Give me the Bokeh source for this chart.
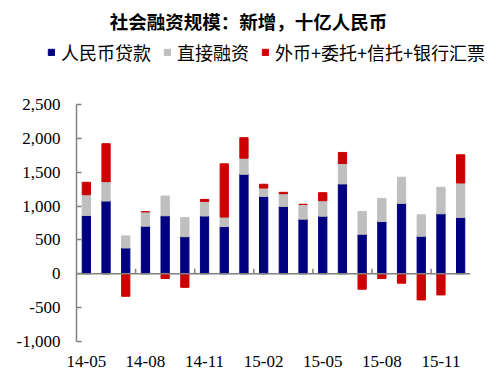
from bokeh.plotting import figure
from bokeh.layouts import column
from bokeh.models import ColumnDataSource, Legend, LegendItem, NumeralTickFormatter, FixedTicker, Span, Label, Range1d
from bokeh.embed import file_html
from bokeh.resources import INLINE

months = ["14-05", "14-06", "14-07", "14-08", "14-09", "14-10", "14-11", "14-12",
          "15-01", "15-02", "15-03", "15-04", "15-05", "15-06", "15-07", "15-08",
          "15-09", "15-10", "15-11", "15-12"]
rmb_loans = [861, 1074, 381, 703, 857, 548, 853, 697, 1470, 1143, 995, 807, 851, 1327, 584, 772, 1040, 554, 886, 832]
direct_fin = [307, 287, 178, 213, 291, 284, 216, 140, 238, 124, 188, 218, 228, 302, 337, 342, 386, 317, 391, 509]
other = [183, 560, -332, 0, -70, -200, 30, 787, 302, 55, 20, 0, 119, 163, -228, -70, -139, -386, -312, 416]
tick_labels = ["14-05", "14-08", "14-11", "15-02", "15-05", "15-08", "15-11"]
series_names = ["人民币贷款", "直接融资", "外币+委托+信托+银行汇票"]
title_text = "社会融资规模：新增，十亿人民币"

NAVY = "#000080"
GRAY = "#BFBFBF"
RED = "#CC0000"
SERIF = "Liberation Serif"
CJK = "Noto Sans CJK SC"

xs = list(range(len(months)))
g_top = [b + g for b, g in zip(rmb_loans, direct_fin)]
r_bot = [gt if r >= 0 else r for gt, r in zip(g_top, other)]
r_top = [gt + r if r >= 0 else 0 for gt, r in zip(g_top, other)]

src = ColumnDataSource(dict(x=xs, b_top=rmb_loans, g_bot=rmb_loans, g_top=g_top, r_bot=r_bot, r_top=r_top))

# ---- header: title + legend (its ranges keep the proxy bars out of view) ----
header = figure(width=495, height=94, output_backend="svg", toolbar_location=None,
                x_axis_type=None, y_axis_type=None, x_range=Range1d(-30, -29), y_range=Range1d(0, 1),
                min_border=0, min_border_left=0, min_border_right=0, min_border_top=0, min_border_bottom=0)
header.frame_align = False
header.outline_line_color = None
header.background_fill_color = "white"
header.border_fill_color = "white"
hb = header.vbar(x="x", bottom=0, top="b_top", width=0.42, color=NAVY, source=src)
hg = header.vbar(x="x", bottom="g_bot", top="g_top", width=0.42, color=GRAY, source=src)
hr = header.vbar(x="x", bottom="r_bot", top="r_top", width=0.42, color=RED, source=src)
legend = Legend(items=[
    LegendItem(label=series_names[0], renderers=[hb]),
    LegendItem(label=series_names[1], renderers=[hg]),
    LegendItem(label=series_names[2], renderers=[hr]),
], orientation="horizontal", location=(47, 29), border_line_color=None,
    background_fill_alpha=0, label_text_font=CJK, label_text_font_size="18px",
    label_text_color="black", label_height=20, glyph_width=8, glyph_height=8,
    spacing=12, label_standoff=6, padding=0, margin=0)
header.add_layout(legend, "center")
header.add_layout(Label(x=248, y=74, x_units="screen", y_units="screen", text=title_text,
                        text_font=CJK, text_font_size="18.5px", text_font_style="bold",
                        text_color="black", text_align="center", text_baseline="middle"))

# ---- main chart ----
p = figure(width=495, height=281, output_backend="svg", toolbar_location=None,
           x_range=Range1d(-0.5, len(months) - 0.5), y_range=Range1d(-1000, 2500),
           min_border_left=76, min_border_right=25, min_border_bottom=34, min_border_top=10)
p.frame_align = False
p.outline_line_color = None
p.xgrid.visible = False
p.ygrid.visible = False
p.background_fill_color = "white"
p.border_fill_color = "white"

w = 0.42
p.vbar(x="x", bottom=0, top="b_top", width=w, color=NAVY, source=src)
p.vbar(x="x", bottom="g_bot", top="g_top", width=w, color=GRAY, source=src)
p.vbar(x="x", bottom="r_bot", top="r_top", width=w, color=RED, source=src)

p.add_layout(Span(location=0, dimension="width", line_color="#808080", line_width=1.5))
sep = [i * 3 + 2.5 for i in range(len(tick_labels) - 1)]
p.segment(x0=sep, x1=sep, y0=[0] * len(sep), y1=[75] * len(sep), line_color="#808080", line_width=1.5)

p.yaxis.ticker = FixedTicker(ticks=[-1000, -500, 0, 500, 1000, 1500, 2000, 2500])
p.yaxis.formatter = NumeralTickFormatter(format="0,0")
p.yaxis.major_label_text_font = SERIF
p.yaxis.major_label_text_font_size = "17px"
p.yaxis.major_label_text_color = "black"
p.yaxis.axis_line_color = "#808080"
p.yaxis.axis_line_width = 1.5
p.yaxis.major_tick_line_color = "#808080"
p.yaxis.major_tick_line_width = 1.5
p.yaxis.major_tick_in = 5
p.yaxis.major_tick_out = 0
p.yaxis.minor_tick_line_color = None
p.yaxis.major_label_standoff = 16

tick_pos = [months.index(t) for t in tick_labels]
p.xaxis.ticker = FixedTicker(ticks=tick_pos)
p.xaxis.major_label_overrides = {i: m for i, m in zip(tick_pos, tick_labels)}
p.xaxis.axis_line_color = None
p.xaxis.major_tick_line_color = None
p.xaxis.minor_tick_line_color = None
p.xaxis.major_label_text_font = SERIF
p.xaxis.major_label_text_font_size = "17px"
p.xaxis.major_label_text_color = "black"
p.xaxis.major_label_standoff = 8

layout = column(header, p, spacing=0)
open("out.html", "w").write(file_html(layout, INLINE))
